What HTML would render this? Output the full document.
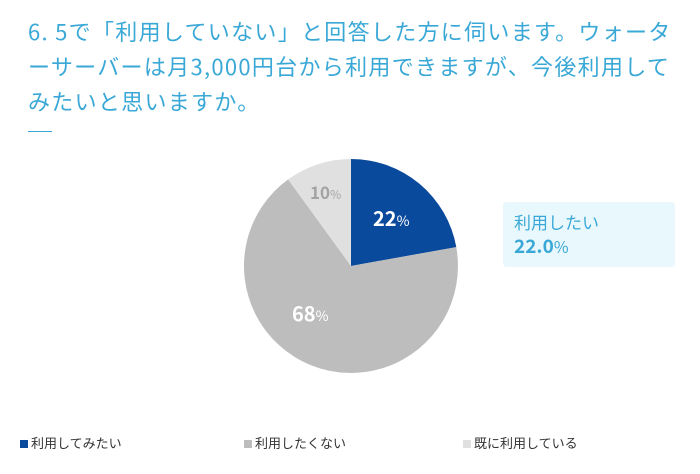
<!DOCTYPE html>
<html><head><meta charset="utf-8"><style>
body{margin:0;width:700px;height:474px;background:#fff;position:relative;overflow:hidden;font-family:"Liberation Sans","Noto Sans CJK JP",sans-serif}
.t{position:absolute;left:28px;top:14px;width:672px;color:#3aa8d6;font-family:"Noto Sans CJK JP",sans-serif;font-size:22px;line-height:35px;letter-spacing:1.3px;white-space:nowrap}
.u{position:absolute;left:28px;top:131px;width:24px;height:1px;background:#3aa8d6}
.box{position:absolute;left:503px;top:202px;width:172px;height:65px;background:#e9f8fd;border-radius:4px;color:#3aa8d6;font-family:"Noto Sans CJK JP",sans-serif}
.box .a{position:absolute;left:11px;top:9px;font-size:17px;line-height:22px}
.box .b{position:absolute;left:11px;top:32px;font-size:19px;font-weight:bold;line-height:24px}
.lg{position:absolute;top:436px;font-size:13px;color:#333;line-height:16px}
.lg i{display:inline-block;width:8px;height:8px;margin-right:3px;vertical-align:0}
</style></head><body>
<div class="t">6. 5で「利用していない」と回答した方に伺います。ウォータ<br>ーサーバーは月3,000円台から利用できますが、今後利用して<br>みたいと思いますか。</div>
<div class="u"></div>
<svg width="700" height="474" style="position:absolute;left:0;top:0">
<path d="M351,266 L351,159 A107,107 0 0 1 456.3,247.1 Z" fill="#0a4a9c"/>
<path d="M351,266 L456.3,247.1 A107,107 0 1 1 288.1,179.4 Z" fill="#bdbdbd"/>
<path d="M351,266 L288.1,179.4 A107,107 0 0 1 351,159 Z" fill="#e0e0e0"/>
<text x="373" y="226" fill="#fff" font-size="20" font-weight="bold" font-family="Noto Sans CJK JP, sans-serif">22<tspan font-size="14" font-weight="normal">%</tspan></text>
<text x="292" y="321" fill="#fff" font-size="20" font-weight="bold" font-family="Noto Sans CJK JP, sans-serif">68<tspan font-size="14" font-weight="normal">%</tspan></text>
<text x="310" y="199" fill="#a3a3a3" font-size="17" font-weight="bold" font-family="Noto Sans CJK JP, sans-serif">10<tspan font-size="12" font-weight="normal">%</tspan></text>
</svg>
<div class="box"><div class="a">利用したい</div><div class="b">22.0<span style="font-weight:normal;font-size:16px">%</span></div></div>
<div class="lg" style="left:20px"><i style="background:#0a4a9c"></i>利用してみたい</div>
<div class="lg" style="left:244px"><i style="background:#bdbdbd"></i>利用したくない</div>
<div class="lg" style="left:463px"><i style="background:#e0e0e0"></i>既に利用している</div>
</body></html>
